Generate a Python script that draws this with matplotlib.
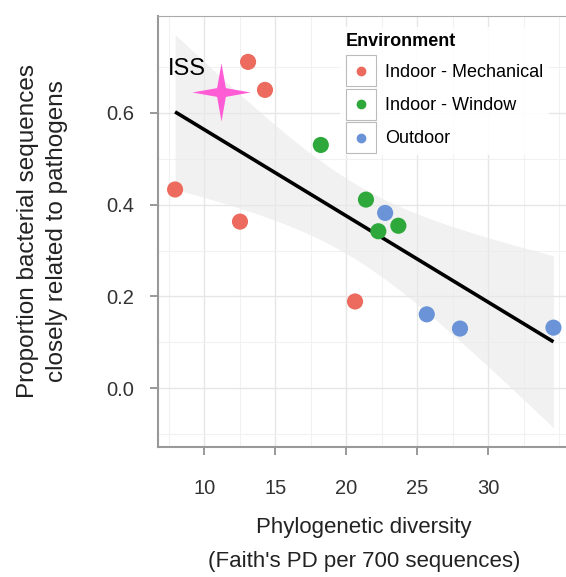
import numpy as np
import matplotlib.pyplot as plt
from matplotlib.path import Path
from matplotlib.patches import Rectangle
from matplotlib.lines import Line2D
from matplotlib.legend_handler import HandlerBase

plt.rcParams['font.family'] = ['Liberation Sans', 'DejaVu Sans']

# data
mech_x = [13.08, 14.27, 7.94, 12.51, 20.61]
mech_y = [0.711, 0.650, 0.433, 0.363, 0.189]
win_x = [18.2, 21.38, 22.25, 23.66]
win_y = [0.530, 0.411, 0.342, 0.354]
out_x = [22.73, 25.66, 28.0, 34.58]
out_y = [0.382, 0.161, 0.130, 0.132]
iss_x, iss_y = 11.18, 0.646

groups = ['Indoor - Mechanical', 'Indoor - Window', 'Outdoor']
colors = ['#EC6A5E', '#2EA83A', '#6A93D8']

# linear fit + 95% band, fitted on all sites
x_all = np.array(mech_x + win_x + out_x)
y_all = np.array(mech_y + win_y + out_y)
n = len(x_all)
slope, icpt = np.polyfit(x_all, y_all, 1)
resid = y_all - (slope * x_all + icpt)
s = np.sqrt(np.sum(resid ** 2) / (n - 2))
sxx = np.sum((x_all - x_all.mean()) ** 2)
xs = np.linspace(x_all.min(), x_all.max(), 200)
fit = slope * xs + icpt
se = s * np.sqrt(1 / n + (xs - x_all.mean()) ** 2 / sxx)
t_crit = 2.201  # t(0.975, df=11)

fig = plt.figure(figsize=(5.66, 5.77), dpi=100)
ax = fig.add_axes([0.2792, 0.2253, 0.728, 0.747])

ax.fill_between(xs, fit - t_crit * se, fit + t_crit * se, color='#e9e9e9', alpha=0.6, lw=0, zorder=1)
ax.plot(xs, fit, color='black', lw=2.6, zorder=3, solid_capstyle='butt')

for gx, gy, c in zip([mech_x, win_x, out_x], [mech_y, win_y, out_y], colors):
    ax.scatter(gx, gy, s=135, color=c, edgecolors='none', zorder=4)

# ISS marker: four-pointed star
a = 0.15
star = Path([(0, 1), (a, a), (1, 0), (a, -a), (0, -1), (-a, -a), (-1, 0), (-a, a), (0, 1)],
            [Path.MOVETO] + [Path.LINETO] * 7 + [Path.CLOSEPOLY])
ax.plot([iss_x], [iss_y], marker=star, markersize=42, color='#FF5CD6', mec='none', ls='none', zorder=5)
ax.text(7.44, 0.696, 'ISS', fontsize=17, ha='left', va='center', zorder=6)

ax.set_xlim(6.74, 35.75)
ax.set_ylim(-0.128, 0.811)
ax.set_xticks([10, 15, 20, 25, 30])
ax.set_yticks([0.0, 0.2, 0.4, 0.6])
ax.set_yticklabels(['0.0', '0.2', '0.4', '0.6'])
ax.set_xticks(np.arange(7.5, 36, 2.5), minor=True)
ax.set_yticks([-0.1, 0.1, 0.3, 0.5, 0.7], minor=True)
ax.grid(which='major', color='#e6e6e6', lw=1.0, zorder=0)
ax.grid(which='minor', color='#f1f1f1', lw=0.8, zorder=0)
ax.set_axisbelow(True)
ax.tick_params(which='major', length=6, width=1.2, color='#888888', labelsize=14.5, labelcolor='#333333')
ax.tick_params(axis='x', pad=17)
ax.tick_params(axis='y', pad=11)
ax.tick_params(which='minor', length=0)

for side in ['left', 'bottom']:
    ax.spines[side].set_color('#999999')
    ax.spines[side].set_linewidth(1.5)
ax.spines['top'].set_color('#aaaaaa')
ax.spines['right'].set_visible(False)

ax.set_xlabel("Phylogenetic diversity\n(Faith's PD per 700 sequences)", fontsize=16,
              linespacing=1.8, labelpad=14, color='#222222')
ax.set_ylabel('Proportion bacterial sequences\nclosely related to pathogens', fontsize=17.5,
              linespacing=1.4, labelpad=28, color='#222222')


class BoxedDot(HandlerBase):
    def create_artists(self, legend, orig_handle, xdescent, ydescent, width, height, fontsize, trans):
        side = max(width, height)
        cx = width / 2 - xdescent
        cy = height / 2 - ydescent
        box = Rectangle((cx - side / 2, cy - side / 2), side, side, fc='white', ec='#bbbbbb',
                        lw=0.8, transform=trans)
        dot = Line2D([cx], [cy], marker='o', ms=6, color=orig_handle.get_color(), ls='none',
                     transform=trans)
        return [box, dot]


handles = [Line2D([], [], color=c) for c in colors]
leg = ax.legend(handles, groups, title='Environment', loc='upper left',
                bbox_to_anchor=(0.42, 0.995), frameon=True, fontsize=13,
                handler_map={Line2D: BoxedDot()}, handlelength=1.7, handleheight=1.7,
                labelspacing=0.5, handletextpad=0.5, borderpad=0.3)
leg.get_frame().set_edgecolor('none')
leg.get_frame().set_facecolor('white')
leg.get_frame().set_alpha(0.9)
leg.get_title().set_fontweight('bold')
leg.get_title().set_fontsize(13)
leg._legend_box.align = 'left'
leg.set_zorder(7)

fig.savefig('out.png', dpi=100)
